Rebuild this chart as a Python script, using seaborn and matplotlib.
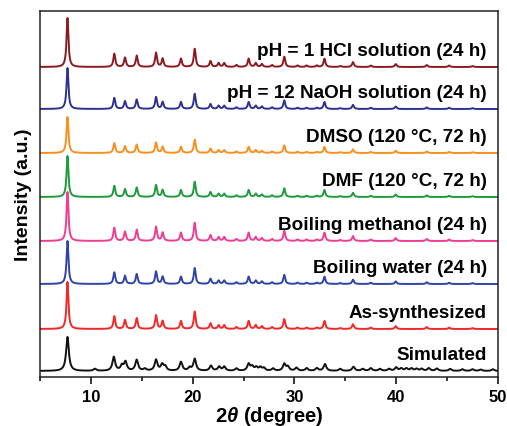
import numpy as np
import pandas as pd
import matplotlib
matplotlib.use('Agg')
import matplotlib.pyplot as plt
import seaborn as sns

# peak positions (2theta) and heights
exp_pos = [7.7, 12.3, 13.35, 14.5, 16.4, 17.05, 18.85, 20.2, 21.75, 22.55, 23.1,
           24.3, 25.5, 26.2, 26.8, 27.8, 29.0, 30.3, 31.2, 32.2, 32.95, 34.5,
           35.75, 37.5, 39.95, 43.0, 45.2, 47.5]
exp_int = [1.0, 0.27, 0.19, 0.23, 0.29, 0.17, 0.17, 0.37, 0.12, 0.08, 0.08,
           0.04, 0.17, 0.08, 0.06, 0.04, 0.21, 0.03, 0.03, 0.03, 0.17, 0.02,
           0.10, 0.03, 0.06, 0.04, 0.03, 0.02]

# simulated pattern peaks
sim_pos = [7.7, 10.4, 12.25, 13.05, 13.4, 14.5, 15.3, 16.4, 17.0, 17.3, 18.85,
           19.7, 20.2, 21.8, 22.6, 23.1, 24.3, 25.5, 25.85, 26.25, 26.65, 27.0,
           27.9, 29.0, 29.35, 30.2, 31.2, 32.2, 33.0, 34.5, 35.8, 36.7, 37.5,
           38.4, 39.3, 40.0, 40.5, 41.0, 41.5, 42.0, 42.5, 43.2, 44.0, 45.3,
           46.5, 47.5, 48.3, 49.5]
sim_int = [1.0, 0.06, 0.41, 0.15, 0.26, 0.32, 0.06, 0.32, 0.18, 0.12, 0.26,
           0.09, 0.35, 0.15, 0.12, 0.12, 0.07, 0.2, 0.12, 0.1, 0.1, 0.08,
           0.07, 0.2, 0.12, 0.09, 0.08, 0.08, 0.2, 0.06, 0.12, 0.06, 0.08,
           0.06, 0.06, 0.1, 0.07, 0.07, 0.07, 0.06, 0.06, 0.08, 0.07, 0.06,
           0.05, 0.05, 0.04, 0.05]

samples = ['Simulated', 'As-synthesized', 'Boiling water (24 h)', 'Boiling methanol (24 h)',
           'DMF (120 °C, 72 h)', 'DMSO (120 °C, 72 h)', 'pH = 12 NaOH solution (24 h)',
           'pH = 1 HCl solution (24 h)']
colors = ['#111111', '#f02828', '#2f44a8', '#ee3d92', '#1f9a3c', '#f7901e', '#2e3192', '#8b1a1f']
offsets = [6, 48, 93, 136, 180, 224, 268, 310]
main_height = [34, 47, 43, 49, 41, 36, 41, 49]
widths = [0.16, 0.11, 0.11, 0.11, 0.11, 0.11, 0.11, 0.11]

two_theta = np.linspace(5, 50, 4501)


def pattern(pos, inten, height, g):
    y = np.zeros_like(two_theta)
    for p, i in zip(pos, inten):
        y += height * i / (1 + ((two_theta - p) / g) ** 2)
    return y


rows = []
for k, name in enumerate(samples):
    if name == 'Simulated':
        y = pattern(sim_pos, sim_int, main_height[k], widths[k])
    else:
        y = pattern(exp_pos, exp_int, main_height[k], widths[k])
    rows.append(pd.DataFrame({'two_theta': two_theta, 'intensity': y + offsets[k], 'sample': name}))
df = pd.concat(rows, ignore_index=True)

sns.set_style('ticks')
plt.rcParams['font.family'] = ['Liberation Sans', 'DejaVu Sans']
plt.rcParams['mathtext.fontset'] = 'custom'
plt.rcParams['mathtext.it'] = 'Liberation Sans:bold:italic'
plt.rcParams['mathtext.rm'] = 'Liberation Sans:bold'

fig = plt.figure(figsize=(5.07, 4.27), dpi=100)
ax = fig.add_axes([40 / 507, 49 / 427, 458 / 507, 366 / 427])
sns.lineplot(data=df, x='two_theta', y='intensity', hue='sample', hue_order=samples,
             palette=colors, estimator=None, sort=False, legend=False, linewidth=1.4, ax=ax)

for k, name in enumerate(samples):
    ax.text(48.9, offsets[k] + 12, name, ha='right', va='baseline',
            fontsize=13.6, fontweight='bold', color='black')

ax.set_xlim(5, 50)
ax.set_ylim(0, 366)
ax.set_yticks([])
ax.set_xticks([10, 20, 30, 40, 50])
ax.set_xticks([5, 15, 25, 35, 45], minor=True)
ax.tick_params(axis='x', which='major', direction='out', length=5, width=1.1,
               labelsize=12, colors='black')
ax.tick_params(axis='x', which='minor', direction='out', length=3, width=1.1, colors='black')
for lab in ax.get_xticklabels():
    lab.set_fontweight('bold')
for s in ax.spines.values():
    s.set_visible(True)
    s.set_linewidth(1.1)
    s.set_color('#222222')

ax.set_xlabel(r'2$\theta$ (degree)', fontsize=14.5, fontweight='bold', labelpad=0, color='black')
ax.set_ylabel('Intensity (a.u.)', fontsize=14, fontweight='bold', labelpad=6, color='black')

fig.savefig('out.png', dpi=100)
